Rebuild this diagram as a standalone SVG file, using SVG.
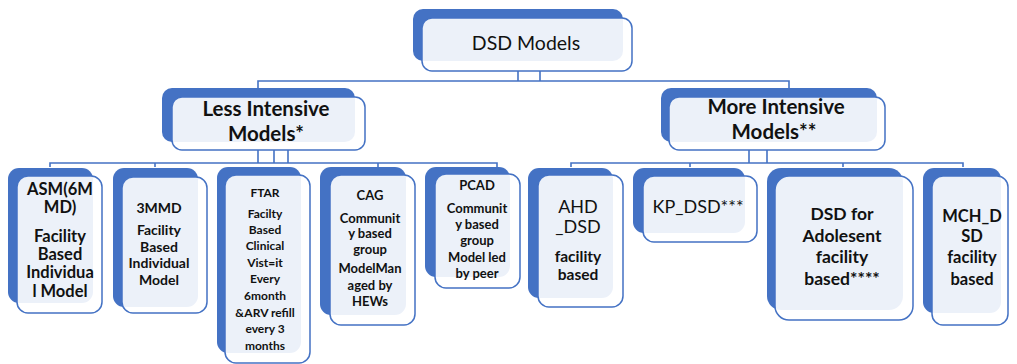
<svg xmlns="http://www.w3.org/2000/svg" width="1017" height="364" viewBox="0 0 1017 364">
  <style>
    .back { fill: #4472c4; }
    .front { fill: #ffffff; fill-opacity: 0.9; stroke: #4472c4; stroke-width: 1.5; }
    .link { fill: none; stroke: #4472c4; stroke-width: 1.6; }
    text { font-family: Lato, "Liberation Sans", sans-serif; fill: #111111; text-anchor: middle; }
    .t0 { font-size: 19.5px; }
    .t1 { font-size: 20.5px; font-weight: bold; }
    .big { font-size: 16.5px; font-weight: bold; }
    .ado { font-size: 17.5px; font-weight: bold; }
    .sm { font-size: 12px; font-weight: bold; }
    .md { font-size: 13px; font-weight: bold; }
    .mmd { font-size: 14px; font-weight: bold; }
    .reg { font-size: 18px; }
    .semi { font-size: 15.5px; font-weight: bold; }
  </style>
  <rect width="1017" height="364" fill="#ffffff"/>

  <!-- connectors -->
  <g id="connectors">
    <path class="link" d="M518 71 V81 M540 71 V81 M258 88 V81 H789 V88"/>
    <path class="link" d="M258 150 V163 M274 150 V163 M288 150 V163 M50 167 V163 H497 V167 M155 163 V167 M378 163 V167"/>
    <path class="link" d="M749 150 V163 M767 150 V163 M571 167 V163 H963 V167 M690 163 V167 M843 163 V167"/>
  </g>

  <!-- root -->
  <g id="dsd-models">
    <rect class="back" x="413" y="9" width="210" height="52" rx="10"/>
    <rect class="front" x="422" y="18" width="210" height="53" rx="10"/>
    <text class="t0" x="526" y="50">DSD Models</text>
  </g>

  <!-- second level -->
  <g id="less-intensive">
    <rect class="back" x="162" y="88" width="193" height="54" rx="10"/>
    <rect class="front" x="172" y="97" width="193" height="53" rx="10"/>
    <text class="t1" x="266" y="116">Less Intensive</text>
    <text class="t1" x="266" y="141">Models*</text>
  </g>
  <g id="more-intensive">
    <rect class="back" x="661" y="88" width="216" height="54" rx="10"/>
    <rect class="front" x="669" y="97" width="216" height="53" rx="10"/>
    <text class="t1" x="776" y="114">More Intensive</text>
    <text class="t1" x="774" y="139">Models**</text>
  </g>

  <!-- less intensive models -->
  <g id="asm">
    <rect class="back" x="8" y="168" width="85" height="135" rx="11"/>
    <rect class="front" x="17" y="176" width="85" height="137" rx="11"/>
    <text class="big" x="60" y="195">ASM(6M</text>
    <text class="big" x="60" y="213">MD)</text>
    <text class="big" x="60" y="242">Facility</text>
    <text class="big" x="60" y="260">Based</text>
    <text class="big" x="60" y="278">Individua</text>
    <text class="big" x="60" y="297">l Model</text>
  </g>
  <g id="mmd3">
    <rect class="back" x="113" y="168" width="85" height="139" rx="11"/>
    <rect class="front" x="122" y="177" width="85" height="136" rx="11"/>
    <text class="mmd" x="159" y="213">3MMD</text>
    <text class="mmd" x="159" y="235">Facility</text>
    <text class="mmd" x="159" y="252">Based</text>
    <text class="mmd" x="159" y="268">Individual</text>
    <text class="mmd" x="159" y="285">Model</text>
  </g>
  <g id="ftar">
    <rect class="back" x="217" y="167" width="84" height="186" rx="11"/>
    <rect class="front" x="225" y="175" width="85" height="188" rx="11"/>
    <text class="sm" x="265" y="197">FTAR</text>
    <text class="sm" x="265" y="218">Facilty</text>
    <text class="sm" x="265" y="234">Based</text>
    <text class="sm" x="265" y="250">Clinical</text>
    <text class="sm" x="265" y="267">Vist=it</text>
    <text class="sm" x="265" y="283">Every</text>
    <text class="sm" x="265" y="300">6month</text>
    <text class="sm" x="265" y="317">&amp;ARV refill</text>
    <text class="sm" x="265" y="333">every 3</text>
    <text class="sm" x="265" y="350">months</text>
  </g>
  <g id="cag">
    <rect class="back" x="320" y="167" width="86" height="148" rx="11"/>
    <rect class="front" x="330" y="175" width="85" height="150" rx="11"/>
    <text class="md" x="370" y="200">CAG</text>
    <text class="md" x="370" y="223">Communit</text>
    <text class="md" x="370" y="238">y based</text>
    <text class="md" x="370" y="254">group</text>
    <text class="md" x="370" y="273">ModelMan</text>
    <text class="md" x="370" y="290">aged by</text>
    <text class="md" x="370" y="306">HEWs</text>
  </g>
  <g id="pcad">
    <rect class="back" x="425" y="167" width="85" height="110" rx="11"/>
    <rect class="front" x="435" y="174" width="85" height="114" rx="11"/>
    <text class="md" x="477" y="190">PCAD</text>
    <text class="md" x="477" y="213">Communit</text>
    <text class="md" x="477" y="229">y based</text>
    <text class="md" x="477" y="245">group</text>
    <text class="md" x="477" y="262">Model led</text>
    <text class="md" x="477" y="278">by peer</text>
  </g>

  <!-- more intensive models -->
  <g id="ahd">
    <rect class="back" x="528" y="168" width="85" height="130" rx="11"/>
    <rect class="front" x="538" y="175" width="85" height="132" rx="11"/>
    <text class="reg" x="578" y="213">AHD</text>
    <text class="reg" x="578" y="233">_DSD</text>
    <text class="semi" x="578" y="262">facility</text>
    <text class="semi" x="578" y="280">based</text>
  </g>
  <g id="kp">
    <rect class="back" x="633" y="168" width="112" height="65" rx="11"/>
    <rect class="front" x="643" y="176" width="114" height="66" rx="11"/>
    <text class="reg" x="698" y="213">KP_DSD***</text>
  </g>
  <g id="adolescent">
    <rect class="back" x="767" y="168" width="136" height="142" rx="14"/>
    <rect class="front" x="775" y="176" width="138" height="144" rx="14"/>
    <text class="ado" x="842" y="220">DSD for</text>
    <text class="ado" x="842" y="242">Adolesent</text>
    <text class="ado" x="842" y="263">facility</text>
    <text class="ado" x="842" y="285">based****</text>
  </g>
  <g id="mch">
    <rect class="back" x="923" y="168" width="78" height="145" rx="11"/>
    <rect class="front" x="932" y="176" width="76" height="149" rx="11"/>
    <text class="big" x="972" y="222">MCH_D</text>
    <text class="big" x="972" y="242">SD</text>
    <text class="big" x="972" y="263">facility</text>
    <text class="big" x="972" y="285">based</text>
  </g>
</svg>
